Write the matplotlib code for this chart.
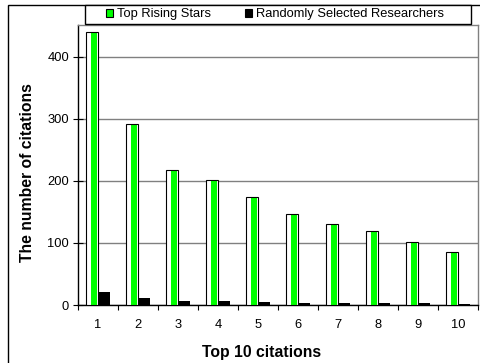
import numpy as np
import matplotlib
matplotlib.use("Agg")
import matplotlib.pyplot as plt
from matplotlib.patches import Patch, Rectangle

plt.rcParams["font.family"] = ["Liberation Sans", "DejaVu Sans"]

# data
ranks = [1, 2, 3, 4, 5, 6, 7, 8, 9, 10]
rising_stars = [440, 291, 218, 202, 174, 146, 130, 119, 101, 85]
random_researchers = [21, 11, 7, 7, 5, 4, 4, 4, 3, 2]
legend_labels = ["Top Rising Stars", "Randomly Selected Researchers"]

W, H = 480, 363
fig = plt.figure(figsize=(W / 100, H / 100), dpi=100)
ax = fig.add_axes([78 / W, 1 - 305 / H, 400 / W, 280 / H])

x = np.array(ranks)
green = "#00FF00"

# rising stars: white bar with a green vertical stripe
ax.bar(x - 0.15, rising_stars, width=0.3, color="white", linewidth=0, zorder=3)
ax.bar(x - 0.0925, rising_stars, width=0.15, color=green, linewidth=0, zorder=3.5)
ax.bar(x - 0.15, rising_stars, width=0.3, fill=False, edgecolor="black",
       linewidth=0.8, zorder=4)
# random researchers: solid black
ax.bar(x + 0.15, random_researchers, width=0.3, color="black", linewidth=0, zorder=3)

ax.set_xlim(0.5, 10.5)
ax.set_ylim(0, 451)

# y axis
ax.set_yticks([0, 100, 200, 300, 400])
ax.tick_params(axis="y", direction="inout", length=7, width=0.8, pad=3,
               labelsize=9.3)
ax.yaxis.grid(True, color="#808080", linewidth=1)
ax.set_axisbelow(True)

# x axis: ticks at category boundaries, labels at centres
ax.set_xticks(np.arange(0.5, 11, 1))
ax.set_xticklabels([])
ax.tick_params(axis="x", which="major", direction="out", length=3.6, width=0.8)
ax.set_xticks(x, minor=True)
ax.set_xticklabels([str(r) for r in ranks], minor=True)
ax.tick_params(axis="x", which="minor", length=0, pad=10, labelsize=9.3)

for s in ["left", "bottom"]:
    ax.spines[s].set_color("black")
    ax.spines[s].set_linewidth(1)
for s in ["top", "right"]:
    ax.spines[s].set_color("#808080")
    ax.spines[s].set_linewidth(1)

# axis titles
fig.text(28 / W, 1 - 173 / H, "The number of citations", rotation=90,
         ha="center", va="center", fontsize=11.3, fontweight="bold")
fig.text(262 / W, 1 - 352 / H, "Top 10 citations",
         ha="center", va="center", fontsize=11.3, fontweight="bold")

# outer chart border
fig.patches.append(Rectangle((8 / W, -0.1), 2, 1 - 5 / H + 0.1,
                             transform=fig.transFigure, fill=False,
                             edgecolor="black", linewidth=1))

# legend box
fig.patches.append(Rectangle((85 / W, 1 - 24 / H), 386 / W, 19 / H,
                             transform=fig.transFigure, fill=True,
                             facecolor="white", edgecolor="black",
                             linewidth=1))
handles = [Patch(facecolor=green, edgecolor="black", linewidth=0.8),
           Patch(facecolor="black", edgecolor="black", linewidth=0.8)]
fig.legend(handles, legend_labels, loc="center", ncol=2,
           bbox_to_anchor=(275 / W, 1 - 14.5 / H), frameon=False,
           fontsize=9.3, handlelength=0.55, handleheight=0.55,
           handletextpad=0.3, columnspacing=2.6, borderaxespad=0,
           borderpad=0)

fig.savefig("out.png", dpi=100)
